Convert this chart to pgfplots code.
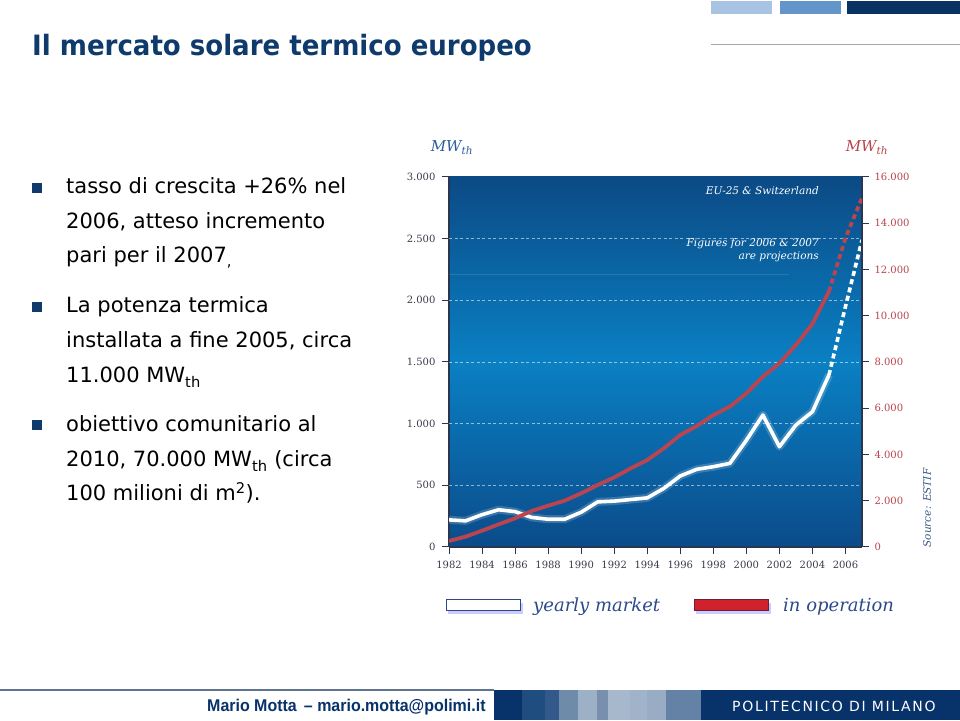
\documentclass[border=0pt]{standalone}
\usepackage{fontspec}
\usepackage{graphicx}
\usepackage{pgfplots}
\pgfplotsset{compat=1.18}
\setmainfont{DejaVu Sans}
\newfontfamily\chartserif{DejaVu Serif}
\newfontfamily\footfont{Liberation Sans}
\definecolor{navy}{HTML}{0F3B6C}
\definecolor{blk1}{HTML}{A9C4E2}
\definecolor{blk2}{HTML}{6495C8}
\definecolor{blk3}{HTML}{083363}
\definecolor{bgtop}{HTML}{0B4A85}
\definecolor{bgmid}{HTML}{0A80C3}
\definecolor{bgbot}{HTML}{0B4B8A}
\definecolor{redline}{HTML}{BA444F}
\definecolor{redtext}{HTML}{B8434C}
\definecolor{axisdark}{HTML}{2A3550}
\definecolor{ticktext}{HTML}{3A3A4A}
\definecolor{mwblue}{HTML}{2F5C9E}
\definecolor{legtext}{HTML}{2C4A8A}
\definecolor{srctext}{HTML}{3A5A86}
\definecolor{legred}{HTML}{D0222D}
\definecolor{legredb}{HTML}{6E1E3C}
\definecolor{footline}{HTML}{5F7491}
\definecolor{fn}{HTML}{08326A}
\definecolor{s1}{HTML}{1F4D80}
\definecolor{s2}{HTML}{33598A}
\definecolor{s3}{HTML}{6F8BAA}
\definecolor{s4}{HTML}{9CB0C6}
\definecolor{s5}{HTML}{7890AE}
\definecolor{s6}{HTML}{A7B8CC}
\definecolor{s7}{HTML}{A0B3C8}
\definecolor{s8}{HTML}{98ACC4}
\definecolor{s9}{HTML}{6482A6}
\begin{document}
\begin{tikzpicture}[x=1pt,y=1pt]
\path[use as bounding box, fill=white] (0,0) rectangle (960,720);
% top right decoration
\fill[blk1] (711,706) rectangle (772,719);
\fill[blk2] (780,706) rectangle (841,719);
\fill[blk3] (847,706) rectangle (960,719);
\draw[gray!70, line width=1pt] (711,675) -- (960,675);
% title
\node[anchor=base west, inner sep=0pt, text=navy] at (32,664) {\scalebox{0.93}[1]{\fontsize{28}{32}\selectfont\bfseries Il mercato solare termico europeo}};
% bullets
\foreach \yy in {183,302,420} {\fill[navy] (32,720-\yy) rectangle (42,710-\yy);}
\begin{scope}[every node/.style={anchor=base west, inner sep=0pt, text=black}]
\node at (66,720-194) {\fontsize{21}{24}\selectfont tasso di crescita +26\% nel};
\node at (66,720-229) {\fontsize{21}{24}\selectfont 2006, atteso incremento};
\node at (66,720-263) {\fontsize{21}{24}\selectfont pari per il 2007\textsubscript{,}};
\node at (66,720-313) {\fontsize{21}{24}\selectfont La potenza termica};
\node at (66,720-348) {\fontsize{21}{24}\selectfont installata a fine 2005, circa};
\node at (66,720-383) {\fontsize{21}{24}\selectfont 11.000 MW\textsubscript{th}};
\node at (66,720-432) {\fontsize{21}{24}\selectfont obiettivo comunitario al};
\node at (66,720-467) {\fontsize{21}{24}\selectfont 2010, 70.000 MW\textsubscript{th} (circa};
\node at (66,720-501) {\fontsize{21}{24}\selectfont 100 milioni di m\textsuperscript{2}).};
\end{scope}
% left axis: yearly market
\begin{axis}[
  at={(449pt,173pt)}, anchor=south west, scale only axis,
  width=413pt, height=370pt,
  xmin=1982, xmax=2007, ymin=0, ymax=3000,
  axis x line*=bottom, axis y line*=left,
  axis line style={-, draw=axisdark, line width=1.2pt},
  xtick={1982,1984,...,2006},
  xticklabels={1982,1984,1986,1988,1990,1992,1994,1996,1998,2000,2002,2004,2006},
  ytick={0,500,...,3000},
  yticklabels={0,500,1.000,1.500,2.000,2.500,3.000},
  scaled y ticks=false,
  tick align=outside, major tick length=7pt,
  tick style={draw=axisdark, line width=1pt},
  ticklabel style={font=\chartserif\fontsize{10}{12}\selectfont, text=ticktext},
  yticklabel style={xshift=-3pt},
  xticklabel style={yshift=-4pt},
  axis background/.style={top color=bgtop, bottom color=bgbot, middle color=bgmid},
]
\pgfplotsinvokeforeach{500,1000,1500,2000,2500}{
  \draw[white, opacity=0.55, line width=0.8pt, dash pattern=on 3pt off 2.5pt] (axis cs:1982,#1) -- (axis cs:2007,#1);
}
\draw[white, opacity=0.12, line width=0.8pt] (axis cs:1982,2213) -- (axis cs:2002.6,2213);
\addplot[white, opacity=0.18, line width=8pt, line join=round] coordinates {
(1982,220) (1983,212) (1984,262) (1985,302) (1986,287) (1987,240) (1988,225) (1989,225)
(1990,282) (1991,366) (1992,372) (1993,385) (1994,398) (1995,475) (1996,576) (1997,630)
(1998,651) (1999,678) (2000,865) (2001,1070) (2002,813) (2003,989) (2004,1097) (2005,1395)};
\addplot[white, line width=3.6pt, line join=round] coordinates {
(1982,220) (1983,212) (1984,262) (1985,302) (1986,287) (1987,240) (1988,225) (1989,225)
(1990,282) (1991,366) (1992,372) (1993,385) (1994,398) (1995,475) (1996,576) (1997,630)
(1998,651) (1999,678) (2000,865) (2001,1070) (2002,813) (2003,989) (2004,1097) (2005,1395)};
\addplot[white, line width=3.6pt, dash pattern=on 5pt off 3.5pt] coordinates {
(2005,1395) (2006,1950) (2007,2490)};
\end{axis}
% right axis: in operation
\begin{axis}[
  at={(449pt,173pt)}, anchor=south west, scale only axis,
  width=413pt, height=370pt,
  xmin=1982, xmax=2007, ymin=0, ymax=16000,
  axis x line=none, axis y line*=right,
  axis line style={-, draw=axisdark, line width=1.2pt},
  ytick={0,2000,...,16000},
  yticklabels={0,2.000,4.000,6.000,8.000,10.000,12.000,14.000,16.000},
  scaled y ticks=false,
  tick align=outside, major tick length=7pt,
  tick style={draw=axisdark, line width=1pt},
  ticklabel style={font=\chartserif\fontsize{10}{12}\selectfont, text=redtext},
  yticklabel style={xshift=2pt},
]
\addplot[redline, line width=3.8pt, line join=round] coordinates {
(1982,259) (1983,447) (1984,706) (1985,980) (1986,1240) (1987,1557) (1988,1787) (1989,2004)
(1990,2320) (1991,2681) (1992,3012) (1993,3400) (1994,3762) (1995,4267) (1996,4843) (1997,5232)
(1998,5708) (1999,6068) (2000,6645) (2001,7366) (2002,7943) (2003,8735) (2004,9650) (2005,11050)};
\addplot[redline, line width=3.8pt, dash pattern=on 5pt off 3.5pt] coordinates {
(2005,11050) (2006,13360) (2007,15100)};
\end{axis}
% chart annotations
\node[text=mwblue, inner sep=0pt] at (452,572) {\chartserif\itshape\fontsize{15}{18}\selectfont MW\textsubscript{th}};
\node[text=redtext, inner sep=0pt] at (867,572) {\chartserif\itshape\fontsize{15}{18}\selectfont MW\textsubscript{th}};
\node[anchor=base east, inner sep=0pt, text=white] at (819,720-195) {\chartserif\itshape\fontsize{10.5}{12}\selectfont EU-25 \& Switzerland};
\node[anchor=base east, inner sep=0pt, text=white] at (819,720-247) {\chartserif\itshape\fontsize{10.5}{12}\selectfont Figures for 2006 \& 2007};
\node[anchor=base east, inner sep=0pt, text=white] at (819,720-260) {\chartserif\itshape\fontsize{10.5}{12}\selectfont are projections};
\node[rotate=90, inner sep=0pt, text=srctext] at (927,720-508) {\chartserif\itshape\fontsize{10.5}{12}\selectfont Source: ESTIF};
% legend
\fill[blue!40!white, opacity=0.5] (448,720-614) rectangle (523,720-603);
\draw[fill=white, draw=legtext, line width=1pt] (446,720-610) rectangle (520,720-599);
\node[anchor=base west, inner sep=0pt, text=legtext] at (533,720-611) {\chartserif\itshape\fontsize{18}{21}\selectfont yearly market};
\fill[blue!40!white, opacity=0.5] (696,720-614) rectangle (771,720-603);
\draw[fill=legred, draw=legredb, line width=0.8pt] (694,720-610) rectangle (768,720-599);
\node[anchor=base west, inner sep=0pt, text=legtext] at (783,720-611) {\chartserif\itshape\fontsize{18}{21}\selectfont in operation};
% footer
\draw[footline, line width=2pt] (0,30) -- (494,30);
\fill[fn] (494,0) rectangle (522,30);
\fill[s1] (522,0) rectangle (545,30);
\fill[s2] (545,0) rectangle (559,30);
\fill[s3] (559,0) rectangle (578,30);
\fill[s4] (578,0) rectangle (597,30);
\fill[s5] (597,0) rectangle (608,30);
\fill[s6] (608,0) rectangle (630,30);
\fill[s7] (630,0) rectangle (647,30);
\fill[s8] (647,0) rectangle (666,30);
\fill[s9] (666,0) rectangle (701,30);
\fill[fn] (701,0) rectangle (960,30);
\node[anchor=base west, inner sep=0pt, text=fn] at (207,9) {\scalebox{0.94}[1]{\footfont\bfseries\fontsize{17}{20}\selectfont Mario Motta \,– mario.motta@polimi.it}};
\node[anchor=base west, inner sep=0pt, text=white] at (732,9) {\addfontfeature{LetterSpace=12}\fontsize{14}{16}\selectfont POLITECNICO DI MILANO};
\end{tikzpicture}
\end{document}
